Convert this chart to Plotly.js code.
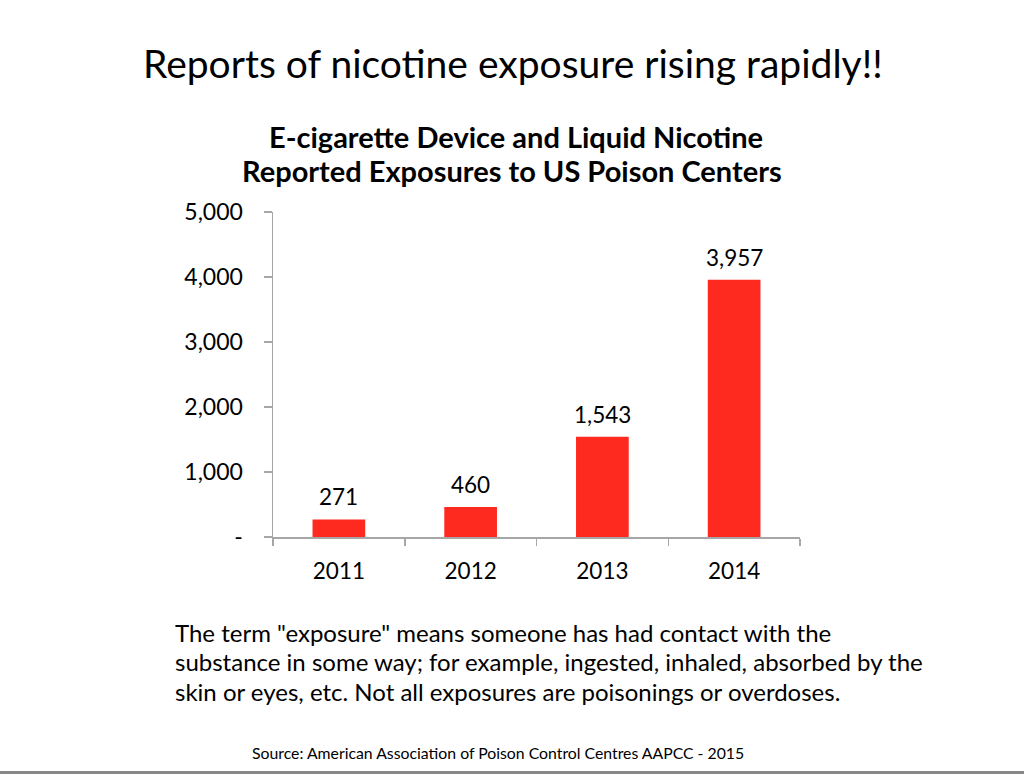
<!DOCTYPE html>
<html>
<head>
<meta charset="utf-8">
<script src="https://cdn.plot.ly/plotly-3.0.1.min.js"></script>
<style>html,body{margin:0;padding:0;background:#fff;}#chart{width:1024px;height:774px;}</style>
</head>
<body>
<div id="chart"></div>
<script>
var years = ["2011", "2012", "2013", "2014"];
var exposures = [271, 460, 1543, 3957];
var yTickVals = [0, 1000, 2000, 3000, 4000, 5000];
var yTickText = ["-", "1,000", "2,000", "3,000", "4,000", "5,000"];
var noteLines = [
  'The term "exposure" means someone has had contact with the',
  'substance in some way; for example, ingested, inhaled, absorbed by the',
  'skin or eyes, etc. Not all exposures are poisonings or overdoses.'
];
var sourceText = "Source: American Association of Poison Control Centres AAPCC - 2015";

var FONT = "Lato, 'Open Sans', sans-serif";
var L = 273, R = 800, T = 212, B = 537;
function px(x){ return (x - L) / (R - L); }
function py(y){ return (B - y) / (B - T); }

var annotations = [
  {text: "Reports of nicotine exposure rising rapidly!!", xref: "paper", yref: "paper",
   x: px(513), y: py(63), showarrow: false, xanchor: "center", yanchor: "middle",
   font: {family: FONT, size: 39, color: "#000"}},
  {text: "<b>E-cigarette Device and Liquid Nicotine</b>", xref: "paper", yref: "paper",
   x: px(516), y: py(136), showarrow: false, xanchor: "center", yanchor: "middle",
   font: {family: FONT, size: 29, color: "#000"}},
  {text: "<b>Reported Exposures to US Poison Centers</b>", xref: "paper", yref: "paper",
   x: px(512), y: py(170), showarrow: false, xanchor: "center", yanchor: "middle",
   font: {family: FONT, size: 29, color: "#000"}},
  {text: sourceText, xref: "paper", yref: "paper",
   x: px(498), y: py(752), showarrow: false, xanchor: "center", yanchor: "middle",
   font: {family: FONT, size: 15.8, color: "#000"}}
];
var noteY = [632, 661, 691];
noteLines.forEach(function(t, i){
  annotations.push({text: t, xref: "paper", yref: "paper", x: px(173), y: py(noteY[i]),
    showarrow: false, xanchor: "left", yanchor: "middle",
    font: {family: FONT, size: 24, color: "#000"}});
});
years.forEach(function(yr, i){
  annotations.push({text: exposures[i].toLocaleString("en-US"), x: i, y: exposures[i],
    xref: "x", yref: "y", showarrow: false, xanchor: "center", yanchor: "bottom", yshift: 7,
    font: {family: FONT, size: 22.5, color: "#000"}});
});

var data = [{
  type: "bar", x: years, y: exposures,
  marker: {color: "#FF2A1F"},
  width: 0.4,
  hoverinfo: "none"
}];

var layout = {
  width: 1024, height: 774,
  margin: {l: L, r: 1024 - R, t: T, b: 774 - B},
  paper_bgcolor: "#fff", plot_bgcolor: "#fff",
  showlegend: false,
  xaxis: {
    type: "category", showline: true, linecolor: "#A6A6A6", linewidth: 1.5,
    ticks: "outside", tickson: "boundaries", ticklen: 7, tickcolor: "#A6A6A6", tickwidth: 1.5,
    showgrid: false, zeroline: false,
    tickfont: {family: FONT, size: 22.5, color: "#000"},
    ticklabelstandoff: 13,
    range: [-0.5, 3.5], fixedrange: true
  },
  yaxis: {
    range: [0, 5000], showline: true, linecolor: "#A6A6A6", linewidth: 1.5,
    ticks: "outside", ticklen: 8, tickcolor: "#A6A6A6", tickwidth: 1.5,
    tickvals: yTickVals, ticktext: yTickText,
    showgrid: false, zeroline: false,
    tickfont: {family: FONT, size: 23, color: "#000"},
    ticklabelstandoff: 16, fixedrange: true
  },
  annotations: annotations,
  shapes: [{type: "line", xref: "paper", yref: "paper", x0: px(0), x1: px(1024), y0: py(772.5), y1: py(772.5),
    line: {color: "#888", width: 3}}]
};

Plotly.newPlot("chart", data, layout, {displayModeBar: false, staticPlot: true});
</script>
</body>
</html>
